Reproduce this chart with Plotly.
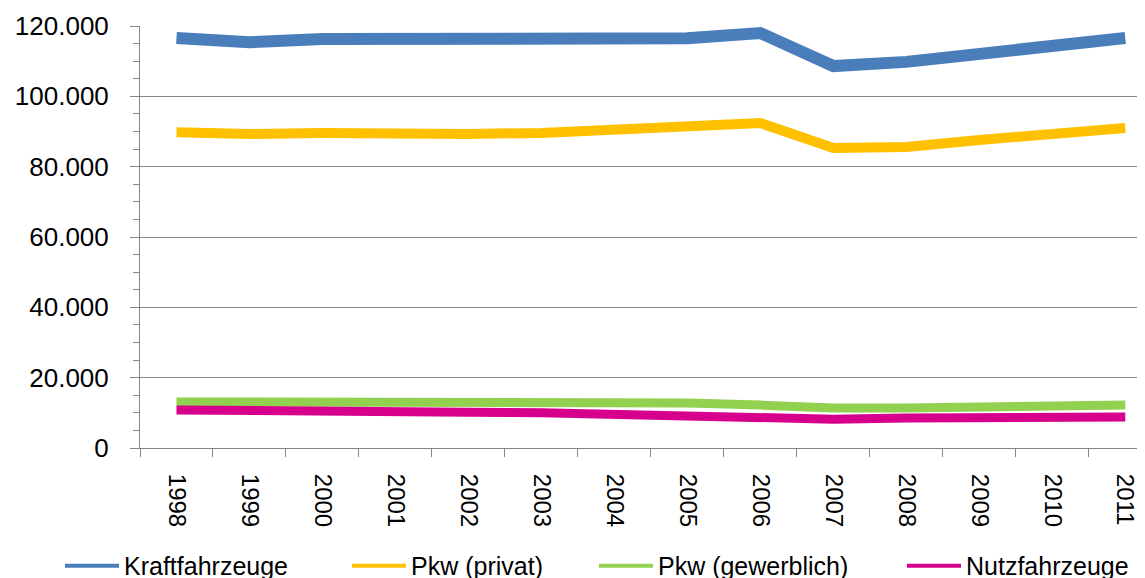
import plotly.graph_objects as go

years = [str(y) for y in range(1998, 2012)]
kraftfahrzeuge = [116600, 115400, 116300, 116300, 116300, 116300, 116300, 116500, 118000, 108600, 109800, 112300, 114900, 116600]
pkw_privat = [89800, 89300, 89600, 89300, 89300, 89600, 90400, 91000, 92400, 85300, 85600, 87600, 89600, 91000]
pkw_gewerblich = [13100, 13100, 13100, 13400, 13400, 12800, 12800, 12800, 12200, 11400, 11400, 11700, 11700, 12200]
nutzfahrzeuge = [10800, 10800, 10800, 10800, 10200, 10000, 9400, 8800, 8800, 8200, 8500, 8500, 8500, 8800]

series = [
    ("Kraftfahrzeuge", kraftfahrzeuge, "#4A7EBB", 12, "legend", -0.0796),
    ("Pkw (privat)", pkw_privat, "#FFC000", 10, "legend2", 0.206),
    ("Pkw (gewerblich)", pkw_gewerblich, "#92D050", 9, "legend3", 0.4517),
    ("Nutzfahrzeuge", nutzfahrzeuge, "#D6008C", 9, "legend4", 0.7582),
]

font = dict(family="Liberation Sans, Arial, sans-serif", color="#000000")

fig = go.Figure()
legends = {}
for name, vals, color, w, lg, lx in series:
    fig.add_trace(go.Scatter(
        x=years, y=vals, name=name, mode="lines",
        line=dict(color=color, width=w), showlegend=False, legendgroup=name,
    ))
    # legend entry with a thin sample line, as in the reference
    fig.add_trace(go.Scatter(
        x=[None], y=[None], name=name, mode="lines",
        line=dict(color=color, width=4), showlegend=True, legendgroup=name,
        legend=lg,
    ))
    legends[lg] = dict(
        orientation="h", x=lx, xanchor="left", y=-0.225, yanchor="top",
        font=dict(**font, size=25), itemwidth=54, bgcolor="rgba(0,0,0,0)",
    )

fig.update_layout(
    width=1137, height=570,
    margin=dict(l=132, r=0, t=18, b=130, autoexpand=False),
    paper_bgcolor="white", plot_bgcolor="white",
    separators=",.",
    font=dict(**font, size=24),
    showlegend=True,
    **legends,
    xaxis=dict(
        type="category", range=[-0.5, 13.27],
        showline=True, linecolor="#868686", linewidth=1,
        showgrid=False, ticks="outside", ticklen=8, tickcolor="#868686",
        tickson="boundaries", tickangle=90,
        tickfont=dict(**font, size=24), ticklabelstandoff=20,
    ),
    yaxis=dict(
        range=[0, 120000], dtick=20000, tickformat=",d",
        showline=True, linecolor="#868686", linewidth=1,
        showgrid=True, gridcolor="#868686", gridwidth=1,
        zeroline=False,
        ticks="outside", ticklen=9, tickcolor="#868686",
        minor=dict(dtick=5000, ticks="outside", ticklen=6, tickcolor="#868686", showgrid=False),
        tickfont=dict(**font, size=26), ticklabelstandoff=16,
    ),
)

fig.write_html("out.html")
